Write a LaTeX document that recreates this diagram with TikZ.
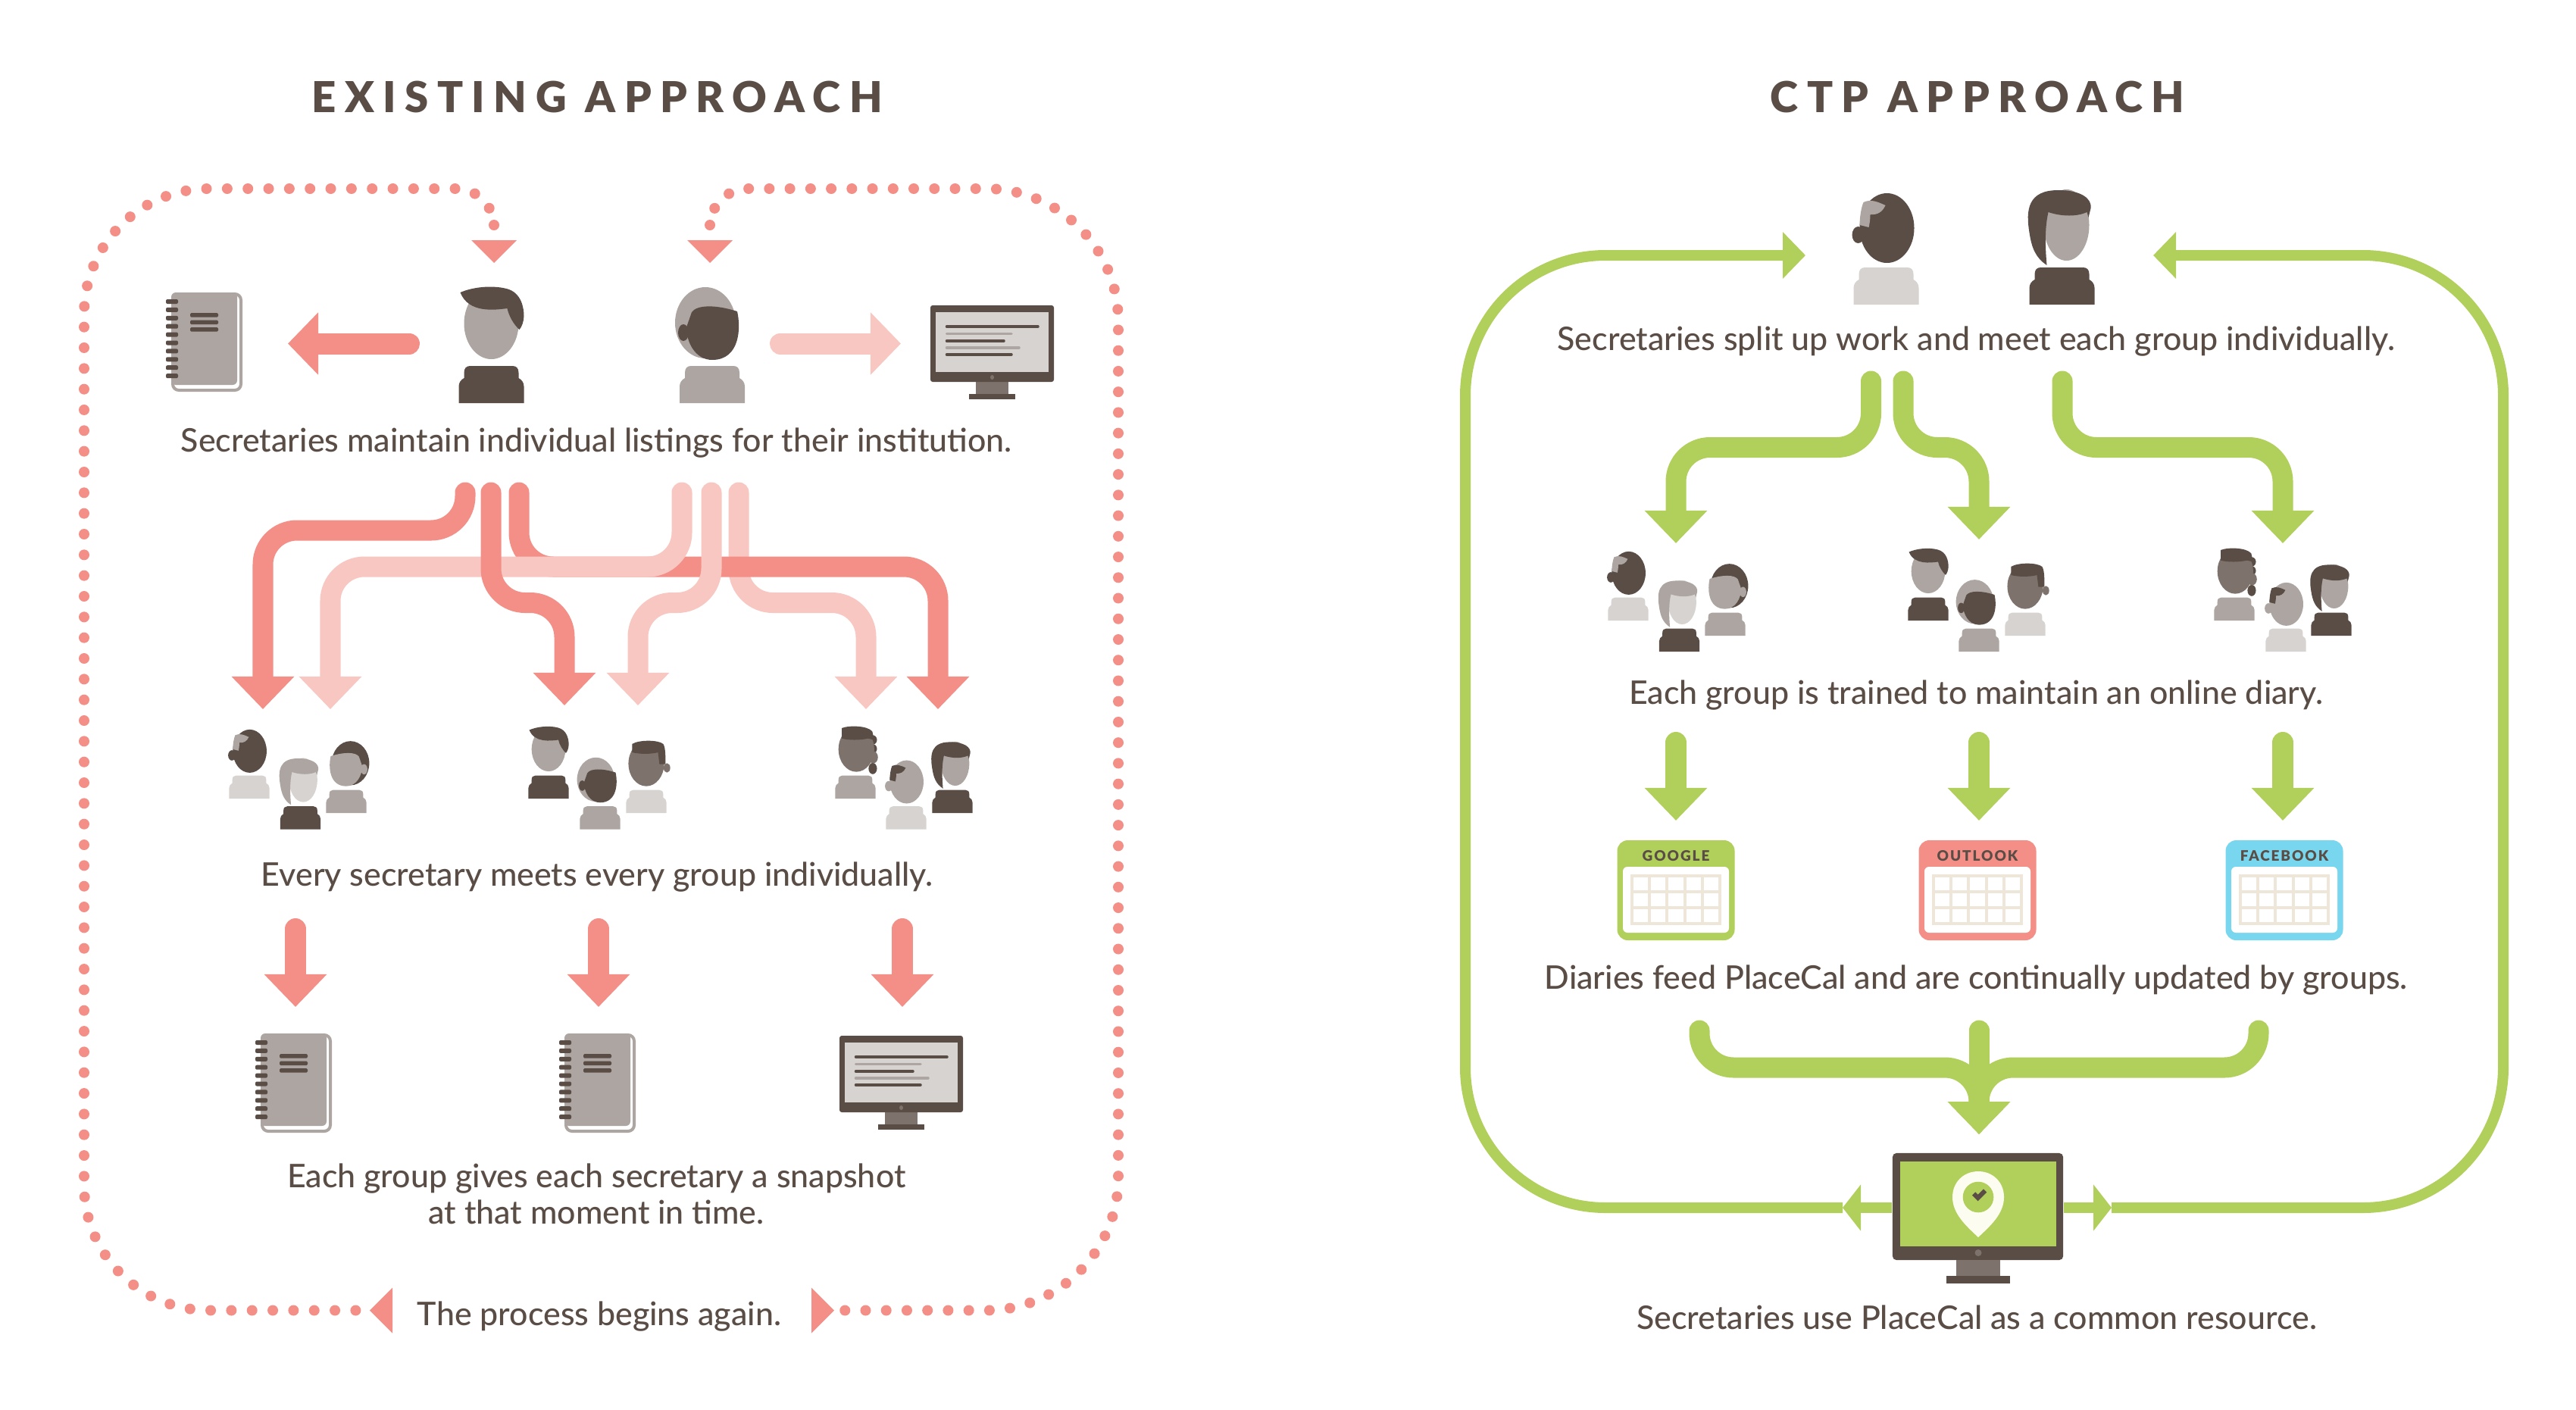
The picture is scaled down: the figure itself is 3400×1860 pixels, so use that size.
\documentclass[tikz,border=0pt]{standalone}
\usepackage{fontspec}
\setmainfont{Lato Medium}
\newfontfamily\heavyfont{Lato Black}
\usetikzlibrary{arrows.meta}
\definecolor{dark}{HTML}{5A4D45}
\definecolor{mid}{HTML}{ADA5A1}
\definecolor{pale}{HTML}{D7D3D0}
\definecolor{grey}{HTML}{7E726C}
\definecolor{coral}{HTML}{F38F87}
\definecolor{blush}{HTML}{F8C7C2}
\definecolor{leaf}{HTML}{B0D05B}
\definecolor{sky}{HTML}{78D6EE}
\definecolor{cream}{HTML}{EEE6D8}
\definecolor{pinwhite}{HTML}{FDFCF1}
\tikzset{
  caption/.style={font=\fontsize{12.2}{13.6}\selectfont, text=dark, anchor=base, inner sep=0pt, yshift=-0.03cm},
  heading/.style={font=\fontsize{16}{20}\selectfont\heavyfont\addfontfeatures{LetterSpace=20.5}, text=dark, inner sep=0pt},
  callabel/.style={font=\fontsize{5.4}{6}\selectfont\heavyfont\addfontfeatures{LetterSpace=10}, text=dark, inner sep=0pt},
  flow/.style={line width=0.27cm, line cap=round, rounded corners=0.45cm, -{Triangle[length=0.43cm,width=0.8cm]}},
  dotloop/.style={draw=coral, line width=0.14cm, line cap=round},
  loopline/.style={draw=leaf, line width=0.14cm, rounded corners=1.85cm},
  looptip/.style={-{Triangle[length=0.3cm,width=0.6cm]}},
  midtip/.style={-{Triangle[length=0.24cm,width=0.6cm]}}
}
% small pieces of the icons, all in pixels of the picture
\newcommand{\headman}[2]{
  \fill[#1] (0,-105) ellipse [x radius=36, y radius=47];
  \fill[#2] (-41,-146) .. controls (-25,-153) and (0,-156) .. (20,-151) .. controls (40,-146) and (43,-125) .. (43,-115)
    .. controls (43,-108) and (40,-100) .. (37,-97) .. controls (30,-103) and (23,-115) .. (21,-125)
    .. controls (5,-123) and (-30,-118) .. (-41,-146) -- cycle;
}
\newcommand{\headback}[2]{
  \fill[#1] (-9,-106) ellipse [x radius=40, y radius=47];
  \fill[#2] (33,-121) .. controls (38,-100) and (37,-57) .. (0,-57) .. controls (-22,-57) and (-34,-80) .. (-34,-100)
    -- (-27,-120) .. controls (-20,-130) and (5,-130) .. (33,-121) -- cycle;
  \fill[#2] (-38,-93) ellipse [x radius=7, y radius=11];
}
\newcommand{\headbackr}[2]{
  \begin{scope}[xscale=-1]\headback{#1}{#2}\end{scope}
}
\newcommand{\headpatch}[2]{
  \fill[#1] (1,-101) ellipse [x radius=36, y radius=46];
  \fill[#1] (-37,-92) ellipse [x radius=8, y radius=11];
  \fill[#2] (-30,-135) .. controls (-20,-140) and (-10,-135) .. (-1,-131) .. controls (-5,-122) and (-12,-118) .. (-21,-119)
    .. controls (-21,-112) and (-22,-106) .. (-23,-102) -- (-35,-105) .. controls (-35,-115) and (-33,-128) .. (-30,-135) -- cycle;
}
\newcommand{\headlong}[2]{
  \fill[#1] (6,-105) ellipse [x radius=30, y radius=47];
  \fill[#2] (-20,-52) .. controls (-35,-62) and (-40,-75) .. (-43,-95) .. controls (-48,-125) and (-45,-151) .. (-5,-151)
    .. controls (25,-151) and (40,-140) .. (38,-127) -- (35,-115) -- (33,-122) .. controls (20,-116) and (0,-116) .. (-18,-122)
    .. controls (-23,-100) and (-22,-75) .. (-20,-52) -- cycle;
}
\newcommand{\headflat}[2]{
  \fill[#1] (0,-105) ellipse [x radius=38, y radius=48];
  \fill[#1] (44,-96) ellipse [x radius=7, y radius=10];
  \fill[#2] (-30,-147) .. controls (-15,-156) and (25,-156) .. (36,-147) .. controls (41,-140) and (41,-120) .. (41,-104)
    -- (28,-104) -- (25,-129) .. controls (10,-125) and (-15,-125) .. (-30,-129) -- cycle;
}
\newcommand{\headcurly}[2]{
  \foreach \cy/\ry in {-125/10,-106/10,-64/12} \fill[#2] (37,\cy) ellipse [x radius=9, y radius=\ry];
  \fill[#1] (2,-105) ellipse [x radius=38, y radius=48];
  \fill[#2] (-29,-150) .. controls (-15,-156) and (25,-156) .. (36,-143) -- (40,-125) -- (27,-128)
    .. controls (10,-124) and (-15,-124) .. (-29,-128) -- cycle;
  \fill[#1] (38,-88) ellipse [x radius=10, y radius=13];
}
% place, size, kind of head, face colour, hair colour, body colour
\newcommand{\person}[6]{
  \begin{scope}[shift={(#1)}, scale=#2]
    \fill[#6] (-43,0) -- (-43,-22) .. controls (-43,-27) and (-40,-31) .. (-36,-33) -- (-36,-40)
      .. controls (-36,-46) and (-33,-49) .. (-28,-49) -- (28,-49) .. controls (33,-49) and (36,-46) .. (36,-40)
      -- (36,-33) .. controls (40,-31) and (43,-27) .. (43,-22) -- (43,0) -- cycle;
    \csname head#3\endcsname{#4}{#5}
  \end{scope}
}
\newcommand{\notebook}[1]{
  \begin{scope}[shift={(#1)}]
    \draw[mid, line width=0.04cm, fill=white, rounded corners=0.08cm] (40,2) -- (92,2) -- (92,129) -- (2,129) -- (2,90);
    \fill[mid, rounded corners=0.06cm] (0,0) rectangle (87,122);
    \foreach \k in {0,...,9} \fill[dark, rounded corners=0.02cm] (-7,{9+\k*10.9}) rectangle (9,{15+\k*10.9});
    \foreach \ly in {27,36.5,46} \fill[dark, rounded corners=0.015cm] (25,\ly) rectangle (62,{\ly+5.5});
  \end{scope}
}
\newcommand{\monitor}[1]{
  \begin{scope}[shift={(#1)}]
    \fill[grey] (-21.5,100) rectangle (21.5,117);
    \fill[dark] (-30.5,117) rectangle (30.5,124);
    \fill[dark, rounded corners=0.03cm] (-81.5,0) rectangle (81.5,101);
    \fill[pale] (-74.5,9) rectangle (74.5,88);
    \foreach \ly/\lx/\lc in {28/60.5/dark, 37.5/25.5/mid, 47/15.5/dark, 56/35.5/mid, 65/25.5/dark}
      \draw[\lc, line width=0.035cm, line cap=round] (-60,\ly) -- (\lx,\ly);
    \fill[grey] (0,95) ellipse [x radius=2.5, y radius=3];
  \end{scope}
}
\newcommand{\calsheet}[4]{
  \begin{scope}[shift={(#1,1109)}]
    \fill[#2, rounded corners=0.14cm] (-77.5,0) rectangle (77.5,132);
    \fill[white, rounded corners=0.06cm] (-70,35) rectangle (70,122);
    \draw[cream, line width=0.04cm] (-58,47) rectangle (58,110);
    \foreach \k in {1,...,4} \draw[cream, line width=0.04cm] ({-58+\k*23.2},47) -- ({-58+\k*23.2},110);
    \foreach \k in {1,2} \draw[cream, line width=0.04cm] (-58,{47+\k*21}) -- (58,{47+\k*21});
    \node[callabel] (#4) at (0,20.5) {#3};
  \end{scope}
}
\begin{document}
\begin{tikzpicture}[x=0.01cm, y=-0.01cm]
  \useasboundingbox (0,0) rectangle (3400,1860);

  % left half
  \node[heading] (titleL) at (788,128) {EXISTING APPROACH};
  \node[heading] (titleR) at (2610,128) {CTP APPROACH};

  \coordinate (dotA) at (652,297);
  \coordinate (dotB) at (937,297);
  \coordinate (dotC) at (470,1729.5);
  \coordinate (dotD) at (1115,1729.5);
  \draw[dotloop, dash pattern=on 0pt off 0.2732cm] (dotA) [rounded corners=0.5cm] -- (652,249) [rounded corners=1.65cm] -- (111,249) -- (111,1729.5) -- (dotC);
  \draw[dotloop, dash pattern=on 0pt off 0.2722cm] (dotB) [rounded corners=0.5cm] -- (937,249) [rounded corners=1.75cm] -- (1476,249) -- (1476,1729.5) -- (dotD);
  \fill[coral] (622,317) -- (682,317) -- (652,347) -- cycle;
  \fill[coral] (907,317) -- (967,317) -- (937,347) -- cycle;
  \fill[coral] (518,1699.5) -- (518,1759.5) -- (488,1729.5) -- cycle;
  \fill[coral] (1071,1699.5) -- (1071,1759.5) -- (1101,1729.5) -- cycle;

  \notebook{226,386}
  \person{648.5,532}{1}{man}{mid}{dark}{dark}
  \person{940,532}{1}{back}{mid}{dark}{mid}
  \monitor{1309.5,403}
  \coordinate (noteA) at (380,453.5);
  \coordinate (screenA) at (1189,453.5);
  \coordinate (manA) at (540,453.5);
  \coordinate (manB) at (1030,453.5);
  \draw[coral, line width=0.28cm, line cap=round, -{Triangle[length=0.4cm,width=0.8cm]}] (manA) -- (noteA);
  \draw[blush, line width=0.28cm, line cap=round, -{Triangle[length=0.4cm,width=0.8cm]}] (manB) -- (screenA);

  \node[caption] (capA) at (787,593) {Secretaries maintain individual listings for their institution.};

  \coordinate (startA) at (614,650);
  \coordinate (startB) at (648,650);
  \coordinate (startC) at (685,650);
  \coordinate (startD) at (900,650);
  \coordinate (startE) at (939,650);
  \coordinate (startF) at (975,650);
  \coordinate (endA) at (347,936);
  \coordinate (endB) at (745,931);
  \coordinate (endC) at (1238,936);
  \coordinate (endD) at (436,936);
  \coordinate (endE) at (842,931);
  \coordinate (endF) at (1143,936);
  \draw[flow, blush] (startF) -- ++(0,145.5) -| (endF);
  \draw[flow, coral] (startC) -- ++(0,98) -| (endC);
  \draw[flow, blush] (startD) -- ++(0,98) -| (endD);
  \draw[flow, blush] (startE) -- ++(0,145.5) -| (endE);
  \draw[flow, coral] (startB) -- ++(0,145.5) -| (endB);
  \draw[flow, coral] (startA) -- ++(0,50) -| (endA);

  \person{329,1054}{0.62}{patch}{dark}{mid}{pale}
  \person{396.5,1094.6}{0.62}{long}{pale}{mid}{dark}
  \person{457,1073}{0.62}{backr}{dark}{mid}{mid}
  \person{724,1054}{0.62}{man}{mid}{dark}{dark}
  \person{792,1094.6}{0.62}{back}{mid}{dark}{mid}
  \person{853,1073}{0.62}{flat}{grey}{dark}{pale}
  \person{1129,1054}{0.62}{curly}{grey}{dark}{mid}
  \person{1196,1094.6}{0.62}{patch}{mid}{dark}{pale}
  \person{1257,1073}{0.62}{long}{mid}{dark}{dark}

  \node[caption] (capB) at (788,1166) {Every secretary meets every group individually.};

  \foreach \cx in {390,790,1191} {
    \coordinate (downS) at (\cx,1226);
    \coordinate (downE) at (\cx,1329);
    \draw[flow, coral, line width=0.28cm] (downS) -- (downE);
  }
  \notebook{344,1364}
  \notebook{745,1364}
  \monitor{1189.5,1367}

  \node[caption] (capC) at (787,1564) {Each group gives each secretary a snapshot};
  \node[caption] (capCb) at (787,1612) {at that moment in time.};
  \node[caption] (capD) at (791,1746) {The process begins again.};

  % right half
  \person{2489.5,402}{1}{patch}{dark}{mid}{pale}
  \person{2721.5,402}{1}{long}{mid}{dark}{dark}
  \node[caption] (capE) at (2608,459) {Secretaries split up work and meet each group individually.};

  \node[fill=dark, minimum width=2.25cm, minimum height=1.41cm, rounded corners=0.05cm, inner sep=0pt] (screen) at (2610.5,1592.5) {};
  \fill[leaf] (2508,1533) rectangle (2714,1645);
  \fill[grey] (2582,1663) rectangle (2640,1684);
  \fill[dark] (2569,1684) rectangle (2653,1693.5);
  \fill[grey] (2611,1653.5) circle [radius=4.5];
  \fill[pinwhite] (2611,1633) .. controls (2595,1618) and (2577,1602) .. (2577,1580) .. controls (2577,1560) and (2592,1546) .. (2611,1546)
    .. controls (2630,1546) and (2645,1560) .. (2645,1580) .. controls (2645,1602) and (2627,1618) .. (2611,1633) -- cycle;
  \fill[leaf] (2611,1580) circle [radius=20.3];
  \draw[dark, line width=0.06cm] (2605,1575.5) -- (2610.5,1581) -- (2620,1571.5);

  \coordinate (tipL) at (2432,1594);
  \coordinate (tipR) at (2787,1594);
  \coordinate (backL) at (2383,337);
  \coordinate (backR) at (2842,337);
  \draw[loopline, looptip] (tipL) -- (1934,1594) -- (1934,337) -- (backL);
  \draw[loopline, looptip] (tipR) -- (3304,1594) -- (3304,337) -- (backR);
  \draw[leaf, line width=0.14cm, midtip] (screen.west |- tipL) -- (tipL);
  \draw[leaf, line width=0.14cm, midtip] (screen.east |- tipR) -- (tipR);

  \coordinate (startG) at (2469.5,503);
  \coordinate (startH) at (2512,503);
  \coordinate (startI) at (2722,503);
  \coordinate (endG) at (2212,717);
  \coordinate (endH) at (2612,712);
  \coordinate (endI) at (3013,717);
  \draw[flow, leaf] (startG) -- ++(0,87.5) -| (endG);
  \draw[flow, leaf] (startH) -- ++(0,87.5) -| (endH);
  \draw[flow, leaf] (startI) -- ++(0,87.5) -| (endI);

  \person{2149,819}{0.62}{patch}{dark}{mid}{pale}
  \person{2216.5,860}{0.62}{long}{pale}{mid}{dark}
  \person{2277,839}{0.62}{backr}{dark}{mid}{mid}
  \person{2545,819}{0.62}{man}{mid}{dark}{dark}
  \person{2612,860}{0.62}{back}{mid}{dark}{mid}
  \person{2673,839}{0.62}{flat}{grey}{dark}{pale}
  \person{2949,819}{0.62}{curly}{grey}{dark}{mid}
  \person{3017,860}{0.62}{patch}{mid}{dark}{pale}
  \person{3077,839}{0.62}{long}{mid}{dark}{dark}

  \node[caption] (capF) at (2608,926) {Each group is trained to maintain an online diary.};

  \foreach \cx in {2212,2612,3013} {
    \coordinate (downS) at (\cx,980);
    \coordinate (downE) at (\cx,1083);
    \draw[flow, leaf, line width=0.28cm] (downS) -- (downE);
  }

  \calsheet{2212}{leaf}{GOOGLE}{calA}
  \calsheet{2610}{coral}{OUTLOOK}{calB}
  \calsheet{3015}{sky}{FACEBOOK}{calC}

  \node[caption] (capG) at (2608,1302.5) {Diaries feed PlaceCal and are continually updated by groups.};

  \coordinate (feedA) at (2243,1360);
  \coordinate (feedB) at (2612,1360);
  \coordinate (feedC) at (2981,1360);
  \coordinate (feedEnd) at (2612,1497);
  \draw[flow, leaf] (feedA) -- ++(0,49) -| (feedEnd);
  \draw[flow, leaf] (feedC) -- ++(0,49) -| (feedEnd);
  \draw[flow, leaf] (feedB) -- (feedEnd);

  \node[caption] (capH) at (2609,1751.5) {Secretaries use PlaceCal as a common resource.};
\end{tikzpicture}
\end{document}
